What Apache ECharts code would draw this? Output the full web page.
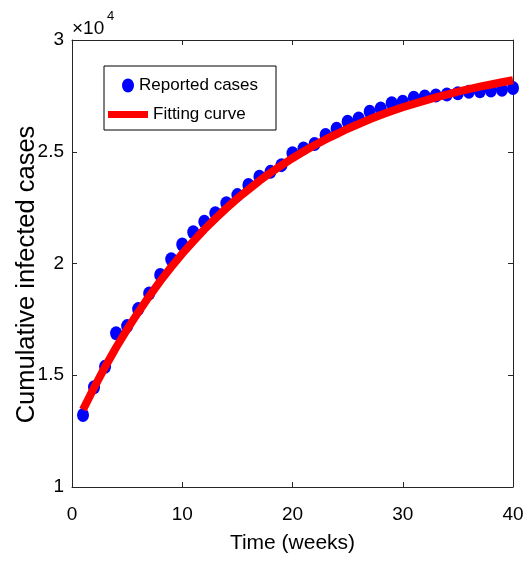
<!DOCTYPE html>
<html>
<head>
<meta charset="utf-8">
<script src="https://cdn.jsdelivr.net/npm/echarts@6/dist/echarts.min.js"></script>
<style>
html,body{margin:0;padding:0;background:#fff;}
#chart{width:528px;height:566px;}
</style>
</head>
<body>
<div id="chart"></div>
<script>
const weeks = [1,2,3,4,5,6,7,8,9,10,11,12,13,14,15,16,17,18,19,20,21,22,23,24,25,26,27,28,29,30,31,32,33,34,35,36,37,38,39,40];
const reportedCases = [13220,14460,15380,16880,17200,17960,18660,19490,20190,20850,21400,21870,22250,22700,23060,23510,23880,24100,24400,24930,25150,25350,25750,26030,26340,26490,26790,26940,27170,27240,27420,27470,27520,27560,27620,27680,27710,27740,27770,27850];
const fittingCurve = [13460,14440,15370,16240,17050,17810,18530,19210,19840,20440,20990,21520,22010,22470,22910,23310,23700,24060,24390,24710,25010,25290,25550,25790,26030,26240,26450,26640,26820,26990,27140,27290,27430,27560,27690,27800,27910,28010,28110,28200];
const xTicks = [0,10,20,30,40];
const yTicks = [10000,15000,20000,25000,30000];

const FONT = "'Liberation Sans', Arial, Helvetica, sans-serif";
const AX = '#262626';
const ellipse = 'path://M0,7 A6,7 0 1,1 12,7 A6,7 0 1,1 0,7 Z';

const chart = echarts.init(document.getElementById('chart'));
const scatterData = weeks.map((w,i)=>[w, reportedCases[i]]);
const lineData = weeks.map((w,i)=>[w, fittingCurve[i]]);

const baseX = {
  type:'value', min:xTicks[0], max:xTicks[xTicks.length-1], interval:10,
  axisLine:{show:true, onZero:false, lineStyle:{color:AX, width:1}},
  axisTick:{show:true, inside:true, length:5, lineStyle:{color:AX}},
  splitLine:{show:false}
};
const baseY = {
  type:'value', min:yTicks[0], max:yTicks[yTicks.length-1], interval:5000,
  axisLine:{show:true, onZero:false, lineStyle:{color:AX, width:1}},
  axisTick:{show:true, inside:true, length:5, lineStyle:{color:AX}},
  splitLine:{show:false}
};

chart.setOption({
  animation:false,
  backgroundColor:'#fff',
  textStyle:{fontFamily:FONT},
  grid:{left:72, right:15, top:40, bottom:79, containLabel:false, outerBoundsMode:'none'},
  xAxis:[
    Object.assign({}, baseX, {
      position:'bottom',
      axisLabel:{show:true, color:'#000', fontSize:19, margin:18, fontFamily:FONT},
      name:'Time (weeks)', nameLocation:'middle', nameGap:46, nameMoveOverlap:false,
      nameTextStyle:{color:'#000', fontSize:21, fontFamily:FONT}
    }),
    Object.assign({}, baseX, {position:'top', axisLabel:{show:false}})
  ],
  yAxis:[
    Object.assign({}, baseY, {
      position:'left',
      axisLabel:{show:true, color:'#000', fontSize:19, margin:8, fontFamily:FONT,
        formatter:function(v){return String(v/10000);}},
      name:'Cumulative infected cases', nameLocation:'middle', nameGap:32, nameMoveOverlap:false,
      nameTextStyle:{color:'#000', fontSize:25.5, fontFamily:FONT, padding:[0,22,0,0]}
    }),
    Object.assign({}, baseY, {position:'right', axisLabel:{show:false}})
  ],
  legend:[
    {
      data:[{name:'Reported cases', icon:ellipse}],
      left:122, top:77, orient:'vertical', padding:0,
      itemWidth:12, itemHeight:14, itemGap:0, itemTextGap:19,
      textStyle:{color:'#000', fontSize:17, fontFamily:FONT},
      selectedMode:false
    },
    {
      data:[{name:'Fitting curve', icon:'rect'}],
      left:108, top:106, orient:'vertical', padding:0,
      itemWidth:40, itemHeight:7, itemGap:0, itemTextGap:5,
      textStyle:{color:'#000', fontSize:17, fontFamily:FONT},
      selectedMode:false
    }
  ],
  graphic:[
    {type:'rect', z:1, shape:{x:104, y:66, width:172, height:64},
      style:{fill:'#fff', stroke:'#000', lineWidth:1}},
    {type:'text', left:72, top:19, style:{text:'\u00d710', fontSize:19, fill:'#000', fontFamily:FONT}},
    {type:'text', left:107, top:10, style:{text:'4', fontSize:13, fill:'#000', fontFamily:FONT}}
  ],
  series:[
    {
      name:'Reported cases', type:'scatter', data:scatterData,
      symbol:ellipse, symbolSize:[12,14],
      itemStyle:{color:'#0000ff', opacity:1}, z:2
    },
    {
      name:'Fitting curve', type:'line', data:lineData,
      showSymbol:false, symbol:'none', smooth:false,
      lineStyle:{color:'#ff0000', width:8, cap:'butt', join:'round'},
      itemStyle:{color:'#ff0000'}, z:3
    }
  ]
});
</script>
</body>
</html>
